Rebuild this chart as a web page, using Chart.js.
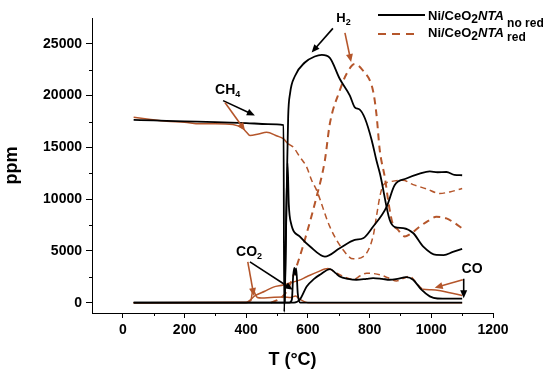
<!DOCTYPE html>
<html lang="en">
<head>
<meta charset="UTF-8">
<title>Ni/CeO2 NTA - ppm vs T</title>
<script src="https://cdn.jsdelivr.net/npm/chart.js"></script>
<style>
  body { margin: 0; background: #fff; }
  canvas { display: block; }
</style>
</head>
<body>
<canvas id="chart" width="550" height="373"></canvas>
<script>
// values: temperature (°C) and concentration (ppm)
// Ni/CeO2 NTA, no red (black)
const ch4NoRedT = [35, 100, 200, 300, 400, 470, 521, 523, 534, 538, 545, 574, 607, 655, 703, 752, 779, 811, 855, 881, 919, 962, 995, 1020, 1049, 1075, 1100];
const ch4NoRedV = [17650, 17600, 17520, 17450, 17350, 17250, 17150, -900, 13500, 9500, 7700, 6380, 5420, 4450, 5260, 6060, 6220, 7340, 9260, 11350, 11990, 12470, 12690, 12600, 12620, 12350, 12310];
const h2NoRedT = [525, 532, 536, 542, 558, 590, 622, 645, 671, 703, 736, 752, 768, 785, 807, 822, 834, 865, 882, 909, 941, 974, 1016, 1040, 1070, 1100];
const h2NoRedV = [0, 12000, 18000, 20200, 21900, 23200, 23780, 23940, 23650, 21630, 20000, 18870, 18650, 17790, 15670, 13750, 12400, 8000, 7300, 7200, 6730, 5420, 4610, 4600, 4900, 5190];
const co2NoRedT = [35, 540, 548, 552, 556, 559, 562, 567, 575, 1100];
const co2NoRedV = [0, 0, 300, 2500, 3350, 2700, 3300, 900, 0, 0];
const coNoRedT = [35, 555, 574, 596, 620, 639, 672, 690, 703, 730, 757, 790, 811, 840, 865, 890, 919, 941, 968, 995, 1020, 1060, 1100];
const coNoRedV = [0, 0, 300, 1550, 2300, 2700, 3240, 2850, 2530, 2300, 2210, 2300, 2370, 2300, 2210, 2300, 2470, 2210, 1250, 610, 400, 380, 380];

// Ni/CeO2 NTA, red (brown)
const ch4RedT = [35, 90, 142, 200, 250, 300, 357, 390, 401, 412, 440, 466, 500, 520, 536, 552, 574, 596, 612, 628, 671, 714, 747, 779, 811, 822, 833, 844, 865, 908, 941, 984, 1027, 1060, 1100];
const ch4RedV = [17910, 17700, 17530, 17430, 17280, 17280, 17210, 16800, 16470, 16150, 16300, 16470, 16100, 15840, 15350, 15030, 14070, 13100, 11830, 10870, 7340, 5100, 4230, 4450, 6380, 8300, 10220, 11350, 11670, 11830, 11400, 11000, 10550, 10700, 11020];
const h2RedT = [480, 510, 531, 563, 596, 628, 655, 671, 703, 725, 752, 779, 811, 822, 833, 850, 862, 875, 890, 914, 930, 962, 990, 1016, 1049, 1075, 1100];
const h2RedV = [0, 400, 1090, 3490, 6700, 10220, 13750, 17280, 20480, 22090, 23050, 22400, 20480, 18240, 14710, 12000, 9500, 7600, 7100, 6400, 6600, 7340, 7900, 8300, 8140, 7700, 7180];
const co2RedT = [35, 400, 415, 422, 428, 436, 450, 480, 520, 545, 560, 575, 600, 1100];
const co2RedV = [0, 0, 200, 1300, 900, 500, 450, 500, 550, 500, 650, 300, 0, 0];
const coRedT = [35, 400, 430, 460, 488, 520, 542, 570, 596, 630, 665, 690, 703, 725, 747, 770, 790, 833, 860, 887, 910, 930, 952, 973, 1000, 1030, 1060, 1100];
const coRedV = [0, 50, 700, 1100, 1500, 1700, 1900, 2150, 2500, 2950, 3300, 2900, 2700, 2400, 2250, 2600, 2850, 2700, 2400, 2100, 2350, 2550, 1900, 1300, 1250, 1150, 950, 700];

const xTicks = [0, 200, 400, 600, 800, 1000, 1200];
const yTicks = [0, 5000, 10000, 15000, 20000, 25000];

const BLACK = '#000000';
const BROWN = '#b5562b';
const FONT = "'Liberation Sans', Arial, sans-serif";

function pts(t, v) {
    return t.map((x, i) => ({ x: x, y: v[i] }));
}

function line(t, v, color, width, dash) {
    return {
        data: pts(t, v),
        borderColor: color,
        borderWidth: width,
        borderDash: dash || [],
        pointRadius: 0,
        fill: false,
        cubicInterpolationMode: 'monotone'
    };
}

// dashed only over a temperature window
function dashBetween(lo, hi, dash) {
    return { borderDash: c => (c.p0.parsed.x >= lo && c.p0.parsed.x < hi ? dash : []) };
}

const ch4Red = line(ch4RedT, ch4RedV, BROWN, 1.5);
ch4Red.segment = dashBetween(525, 2000, [6, 4]);
const coRed = line(coRedT, coRedV, BROWN, 1.5);
coRed.segment = dashBetween(640, 960, [6, 4]);

// black first so it is painted on top
const datasets = [
    line(ch4NoRedT, ch4NoRedV, BLACK, 1.8),
    line(h2NoRedT, h2NoRedV, BLACK, 1.8),
    line(co2NoRedT, co2NoRedV, BLACK, 1.8),
    line(coNoRedT, coNoRedV, BLACK, 1.8),
    ch4Red,
    line(h2RedT, h2RedV, BROWN, 2, [7, 5]),
    line(co2RedT, co2RedV, BROWN, 1.5),
    coRed
];

// annotation arrows [T0, V0, T1, V1, colour]
const arrows = [
    [681, 26500, 612, 24170, BLACK],
    [720, 26060, 740, 23250, BROWN],
    [325, 19520, 428, 18080, BLACK],
    [331, 19330, 396, 16630, BROWN],
    [412, 3940, 551, 1250, BLACK],
    [405, 3940, 425, 650, BROWN],
    [1105, 2310, 1105, 420, BLACK],
    [1102, 2210, 1011, 1440, BROWN]
];
// species labels [text, subscript, T, V, size]
const species = [
    ['H', '2', 692, 27100, 13],
    ['CH', '4', 299, 20190, 14],
    ['CO', '2', 367, 4520, 14],
    ['CO', '', 1098, 2880, 14]
];

function drawArrow(ctx, x1, y1, x2, y2, color) {
    const a = Math.atan2(y2 - y1, x2 - x1);
    const len = 8, w = 3.5;
    ctx.strokeStyle = color;
    ctx.fillStyle = color;
    ctx.lineWidth = 1.6;
    ctx.setLineDash([]);
    ctx.beginPath();
    ctx.moveTo(x1, y1);
    ctx.lineTo(x2 - Math.cos(a) * len * 0.8, y2 - Math.sin(a) * len * 0.8);
    ctx.stroke();
    ctx.beginPath();
    ctx.moveTo(x2, y2);
    ctx.lineTo(x2 - Math.cos(a) * len - Math.sin(a) * w, y2 - Math.sin(a) * len + Math.cos(a) * w);
    ctx.lineTo(x2 - Math.cos(a) * len + Math.sin(a) * w, y2 - Math.sin(a) * len - Math.cos(a) * w);
    ctx.closePath();
    ctx.fill();
}

function drawRuns(ctx, x, y, parts) {
    parts.forEach(p => {
        ctx.font = p.f;
        ctx.fillText(p.t, x, y + (p.dy || 0));
        x += ctx.measureText(p.t).width;
    });
}

const extras = {
    id: 'extras',
    afterDraw(chart) {
        const { ctx, chartArea: ca, scales: { x, y } } = chart;
        ctx.save();

        // minor ticks
        ctx.strokeStyle = BLACK;
        ctx.lineWidth = 1;
        ctx.beginPath();
        for (let t = 100; t < 1200; t += 200) {
            const px = Math.round(x.getPixelForValue(t)) + 0.5;
            ctx.moveTo(px, ca.bottom);
            ctx.lineTo(px, ca.bottom + 3);
        }
        for (let v = 2500; v < 27500; v += 5000) {
            const py = Math.round(y.getPixelForValue(v)) + 0.5;
            ctx.moveTo(ca.left, py);
            ctx.lineTo(ca.left - 3, py);
        }
        ctx.stroke();

        arrows.forEach(a => drawArrow(ctx, x.getPixelForValue(a[0]), y.getPixelForValue(a[1]),
            x.getPixelForValue(a[2]), y.getPixelForValue(a[3]), a[4]));

        ctx.fillStyle = BLACK;
        ctx.textBaseline = 'alphabetic';
        ctx.textAlign = 'left';
        species.forEach(s => {
            drawRuns(ctx, x.getPixelForValue(s[2]), y.getPixelForValue(s[3]), [
                { t: s[0], f: 'bold ' + s[4] + 'px ' + FONT },
                { t: s[1], f: 'bold 9px ' + FONT, dy: 3 }
            ]);
        });

        // legend
        const lx = ca.right - 115;
        ctx.lineWidth = 1.8;
        ctx.strokeStyle = BLACK;
        ctx.beginPath();
        ctx.moveTo(lx, 15);
        ctx.lineTo(lx + 47, 15);
        ctx.stroke();
        ctx.strokeStyle = BROWN;
        ctx.setLineDash([8, 6]);
        ctx.beginPath();
        ctx.moveTo(lx, 34);
        ctx.lineTo(lx + 38, 34);
        ctx.stroke();
        ctx.setLineDash([]);
        ctx.fillStyle = BLACK;
        drawRuns(ctx, lx + 50, 20, [
            { t: 'Ni/CeO', f: 'bold 13px ' + FONT },
            { t: '2', f: 'bold 12px ' + FONT, dy: 3 },
            { t: 'NTA', f: 'italic bold 13px ' + FONT },
            { t: ' no red', f: 'bold 12px ' + FONT, dy: 7 }
        ]);
        drawRuns(ctx, lx + 50, 37, [
            { t: 'Ni/CeO', f: 'bold 13px ' + FONT },
            { t: '2', f: 'bold 12px ' + FONT, dy: 3 },
            { t: 'NTA', f: 'italic bold 13px ' + FONT },
            { t: ' red', f: 'bold 12px ' + FONT, dy: 4 }
        ]);
        ctx.restore();
    }
};

const tickFont = { family: FONT, size: 14, weight: 'bold' };
const plainNumber = v => String(v);

new Chart(document.getElementById('chart'), {
    type: 'line',
    data: { datasets: datasets },
    options: {
        responsive: false,
        animation: false,
        layout: { padding: { left: 0, right: 57, top: 18, bottom: 0 } },
        plugins: { legend: { display: false }, tooltip: { enabled: false } },
        scales: {
            x: {
                type: 'linear',
                min: -100,
                max: 1200,
                afterFit: s => { s.height = 60; },
                afterBuildTicks: s => { s.ticks = xTicks.map(v => ({ value: v })); },
                ticks: { color: BLACK, font: tickFont, padding: 4, maxRotation: 0, callback: plainNumber },
                grid: { drawOnChartArea: false, color: BLACK, tickLength: 5 },
                border: { color: BLACK, width: 1 },
                title: { display: true, text: 'T (°C)', color: BLACK, font: { family: FONT, size: 18, weight: 'bold' }, padding: { top: 0, bottom: 2 } }
            },
            y: {
                min: -1000,
                max: 27500,
                afterFit: s => { s.width = 92; },
                afterBuildTicks: s => { s.ticks = yTicks.map(v => ({ value: v })); },
                ticks: { color: BLACK, font: tickFont, padding: 4, callback: plainNumber },
                grid: { drawOnChartArea: false, color: BLACK, tickLength: 6 },
                border: { color: BLACK, width: 1 },
                title: { display: true, text: 'ppm', color: BLACK, font: { family: FONT, size: 18, weight: 'bold' }, padding: { top: 1, bottom: 0 } }
            }
        }
    },
    plugins: [extras]
});
</script>
</body>
</html>
